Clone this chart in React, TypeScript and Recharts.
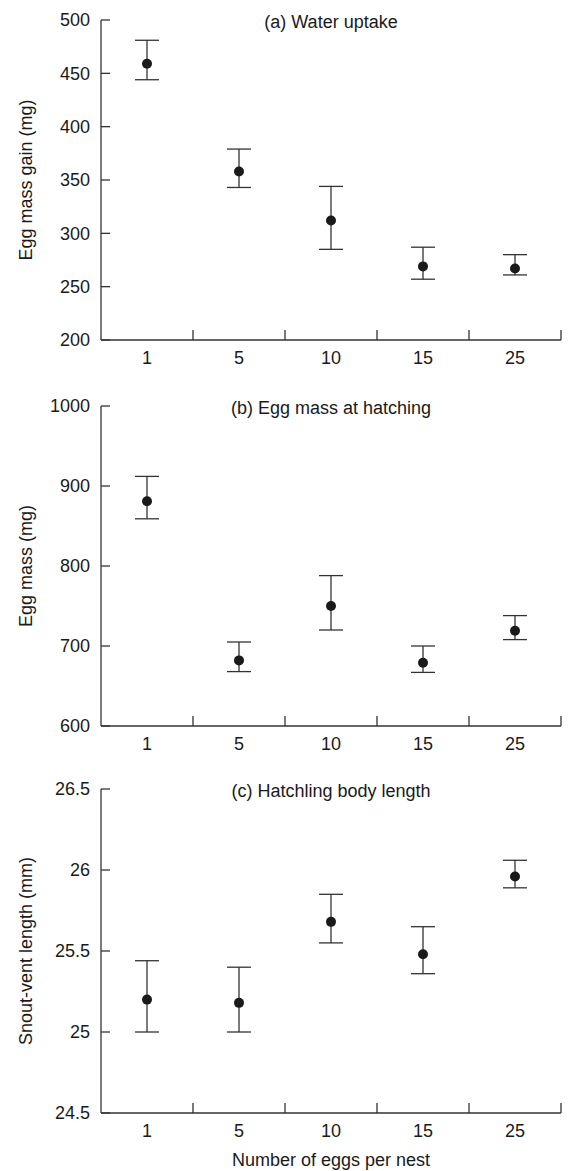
import React from 'react'
import { ScatterChart, Scatter, XAxis, YAxis, ErrorBar, Label } from 'recharts'

const eggsPerNest = ['1', '5', '10', '15', '25']

// (a) water uptake (mg)
const uptakeMean = [459, 358, 312, 269, 267]
const uptakeUpper = [481, 379, 344, 287, 280]
const uptakeLower = [444, 343, 285, 257, 261]
const uptakeTicks = [200, 250, 300, 350, 400, 450, 500]

// (b) egg mass at hatching (mg)
const massMean = [881, 682, 750, 679, 719]
const massUpper = [912, 705, 788, 700, 738]
const massLower = [859, 668, 720, 667, 708]
const massTicks = [600, 700, 800, 900, 1000]

// (c) hatchling snout-vent length (mm)
const svlMean = [25.2, 25.18, 25.68, 25.48, 25.96]
const svlUpper = [25.44, 25.4, 25.85, 25.65, 26.06]
const svlLower = [25.0, 25.0, 25.55, 25.36, 25.89]
const svlTicks = [24.5, 25, 25.5, 26, 26.5]

const INK = '#1a1a1a'
const AXIS = '#333'
const FONT = '"Liberation Sans", Arial, Helvetica, sans-serif'
const FS = 18

// label slots sit between the boundary ticks
const xTicks = [0.5, 1, 1.5, 2, 2.5, 3, 3.5, 4, 4.5, 5]

function YTick(props: any) {
  const { x, y, payload } = props
  return (
    <g>
      <line x1={x} x2={x + 9} y1={y} y2={y} stroke={AXIS} strokeWidth={1.3} />
      <text x={x - 11} y={y} dy={6.4} textAnchor="end" fontSize={FS} fill={INK} fontFamily={FONT}>
        {payload.value}
      </text>
    </g>
  )
}

function XTick(props: any) {
  const { x, y, payload } = props
  const v = payload.value as number
  if (Number.isInteger(v)) {
    return <line x1={x} x2={x} y1={y} y2={y - 10} stroke={AXIS} strokeWidth={1.3} />
  }
  return (
    <text x={x} y={y + 23.5} textAnchor="middle" fontSize={FS} fill={INK} fontFamily={FONT}>
      {eggsPerNest[Math.floor(v)]}
    </text>
  )
}

function Dot(props: any) {
  return <circle cx={props.cx} cy={props.cy} r={5} fill={INK} />
}

interface PanelProps {
  title: string
  yLabel: string
  mean: number[]
  upper: number[]
  lower: number[]
  ticks: number[]
  top: number
  height: number
  axisHeight: number
  xTitle?: string
}

function Panel({ title, yLabel, mean, upper, lower, ticks, top, height, axisHeight, xTitle }: PanelProps) {
  const data = mean.map((m, i) => ({
    x: i + 0.5,
    y: m,
    err: [m - lower[i], upper[i] - m],
  }))

  return (
    <div style={{ position: 'absolute', left: 0, top, width: 568, height }}>
      <ScatterChart width={568} height={height} margin={{ top: 20, right: 7, bottom: 0, left: 0 }}>
        <XAxis
          type="number"
          dataKey="x"
          domain={[0, 5]}
          ticks={xTicks}
          interval={0}
          height={axisHeight}
          tickSize={0}
          tickMargin={0}
          tickLine={false}
          tick={<XTick />}
          axisLine={{ stroke: AXIS, strokeWidth: 1.3 }}
        >
          {xTitle && (
            <Label
              content={(p: any) => (
                <text
                  x={(101 + 561) / 2}
                  y={p.viewBox.y + 53}
                  textAnchor="middle"
                  fontSize={FS}
                  fill={INK}
                  fontFamily={FONT}
                >
                  {xTitle}
                </text>
              )}
            />
          )}
        </XAxis>
        <YAxis
          type="number"
          dataKey="y"
          domain={[ticks[0], ticks[ticks.length - 1]]}
          ticks={ticks}
          interval={0}
          width={101}
          tickSize={0}
          tickMargin={0}
          tickLine={false}
          tick={<YTick />}
          axisLine={{ stroke: AXIS, strokeWidth: 1.3 }}
        >
          <Label
            content={(p: any) => {
              const cy = p.viewBox.y + p.viewBox.height / 2
              return (
                <text
                  x={26}
                  y={cy}
                  transform={`rotate(-90, 26, ${cy})`}
                  textAnchor="middle"
                  dominantBaseline="central"
                  fontSize={FS}
                  fill={INK}
                  fontFamily={FONT}
                >
                  {yLabel}
                </text>
              )
            }}
          />
        </YAxis>
        <Scatter data={data} dataKey="y" shape={<Dot />} isAnimationActive={false}>
          <ErrorBar dataKey="err" direction="y" width={12} stroke={AXIS} strokeWidth={1.3} />
        </Scatter>
      </ScatterChart>
      <div
        style={{
          position: 'absolute',
          left: 101,
          width: 460,
          top: 13,
          textAlign: 'center',
          fontFamily: FONT,
          fontSize: FS,
          lineHeight: '18px',
          color: INK,
        }}
      >
        {title}
      </div>
    </div>
  )
}

export default function App() {
  return (
    <div style={{ position: 'absolute', left: 0, top: 0, width: 568, height: 1171, background: '#fff' }}>
      <Panel
        title="(a) Water uptake"
        yLabel="Egg mass gain (mg)"
        mean={uptakeMean}
        upper={uptakeUpper}
        lower={uptakeLower}
        ticks={uptakeTicks}
        top={0}
        height={380}
        axisHeight={40}
      />
      <Panel
        title="(b) Egg mass at hatching"
        yLabel="Egg mass (mg)"
        mean={massMean}
        upper={massUpper}
        lower={massLower}
        ticks={massTicks}
        top={386}
        height={380}
        axisHeight={40}
      />
      <Panel
        title="(c) Hatchling body length"
        yLabel="Snout-vent length (mm)"
        mean={svlMean}
        upper={svlUpper}
        lower={svlLower}
        ticks={svlTicks}
        top={769}
        height={402}
        axisHeight={58}
        xTitle="Number of eggs per nest"
      />
    </div>
  )
}
